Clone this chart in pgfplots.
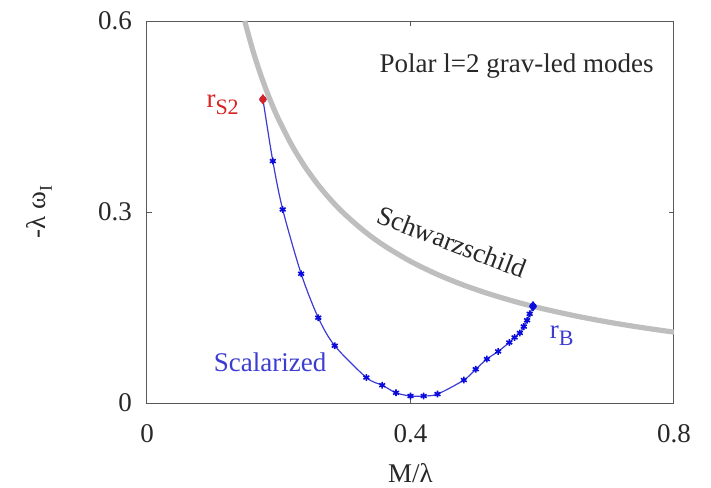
\documentclass[border=0pt]{standalone}
\usepackage{pgfplots}
\pgfplotsset{compat=1.18}
\usepackage{fontspec}
\setmainfont{Liberation Serif}
\definecolor{bluecurve}{RGB}{60,60,210}
\definecolor{bluemark}{RGB}{10,10,220}
\definecolor{redpt}{RGB}{215,35,35}
\definecolor{schw}{RGB}{190,190,190}
\definecolor{txt}{RGB}{40,40,40}
\begin{document}
\begin{tikzpicture}[font=\fontsize{13.5}{15}\selectfont]
\path[use as bounding box] (-73.5pt,-42pt) rectangle (282pt,201.5pt);
\begin{axis}[
  at={(0,0)}, anchor=south west,
  scale only axis, width=263.5pt, height=191pt,
  xmin=0, xmax=0.8, ymin=0, ymax=0.6,
  xtick={0,0.4,0.8}, ytick={0,0.3,0.6},
  xticklabels={0,0.4,0.8}, yticklabels={0,0.3,0.6},
  tick pos=both, tick align=inside,
  major tick length=2.5pt,
  axis line style={draw=black!65, line width=0.5pt},
  every tick/.style={black!65, line width=0.5pt},
  /pgf/number format/assume math mode=true,
  every tick label/.append style={font=\fontsize{13.5}{15}\selectfont, text=txt},
  xticklabel style={yshift=-7pt},
  yticklabel style={xshift=-4pt},
  clip=false,
]
\addplot[schw, line width=2.6pt, smooth] coordinates {
(0.1483,0.600) (0.16,0.5563) (0.17,0.5235) (0.18,0.4944) (0.19,0.4684)
(0.20,0.4450) (0.22,0.4045) (0.24,0.3708) (0.26,0.3423) (0.28,0.3179)
(0.30,0.2967) (0.33,0.2697) (0.36,0.2472) (0.40,0.2225) (0.44,0.2023)
(0.48,0.1854) (0.52,0.1712) (0.56,0.1589) (0.60,0.1483) (0.65,0.1369)
(0.70,0.1271) (0.75,0.1187) (0.80,0.1113)};
\addplot[bluecurve, line width=0.6pt, smooth, tension=0.5, mark=asterisk, mark size=1.7pt,
  mark options={bluemark, line width=0.8pt}] coordinates {
(0.176,0.477) (0.191,0.380) (0.206,0.304) (0.234,0.203) (0.260,0.134)
(0.285,0.090) (0.333,0.040) (0.357,0.028) (0.378,0.016) (0.400,0.011)
(0.420,0.011) (0.441,0.014) (0.481,0.036) (0.499,0.053) (0.516,0.069)
(0.533,0.081) (0.550,0.095) (0.558,0.103) (0.566,0.110) (0.572,0.120)
(0.577,0.130) (0.581,0.140) (0.586,0.152)};
\addplot[only marks, mark=diamond*, mark size=2.3pt, redpt] coordinates {(0.176,0.477)};
\addplot[only marks, mark=diamond*, mark size=2.3pt, bluemark] coordinates {(0.586,0.152)};
\node[text=txt] at (axis cs:0.561,0.529) {Polar l=2 grav-led modes};
\node[text=txt, rotate=-21] at (axis cs:0.463,0.253) {Schwarzschild};
\node[text=bluecurve] at (axis cs:0.187,0.064) {Scalarized};
\node[text=redpt, anchor=east] at (axis cs:0.150,0.468) {r\raisebox{-0.55ex}{\fontsize{11}{12}\selectfont S2}};
\node[text=bluecurve, anchor=west] at (axis cs:0.601,0.106) {r\raisebox{-0.55ex}{\fontsize{11}{12}\selectfont B}};
\end{axis}
\node[text=txt, inner sep=1pt] at (131.75pt,-35pt) {M/λ};
\node[text=txt, rotate=90] at (-54pt,95.5pt) {-λ ω\raisebox{-0.55ex}{\fontsize{9}{10}\selectfont I}};
\end{tikzpicture}
\end{document}
